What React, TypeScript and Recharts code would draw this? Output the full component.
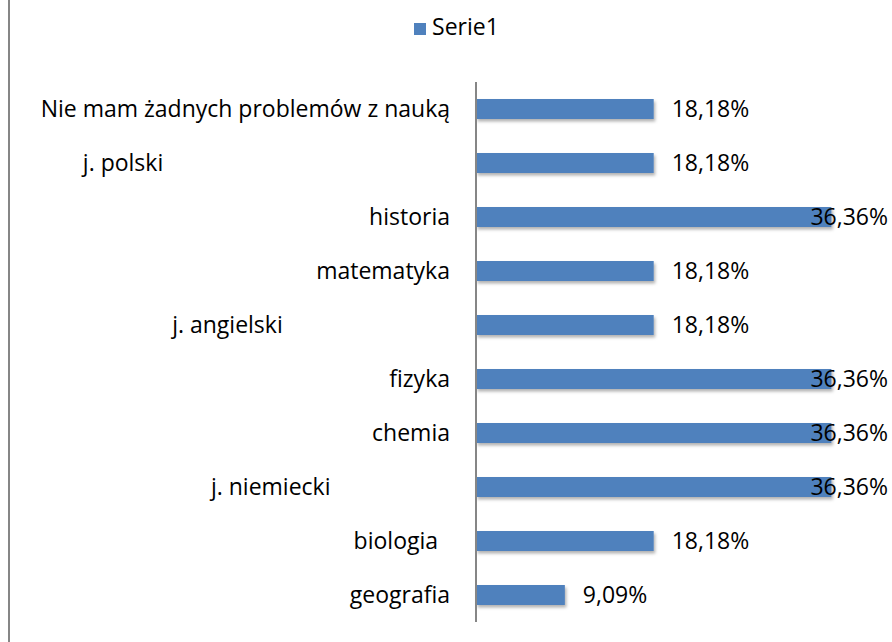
import React from "react";
import { BarChart, Bar, XAxis, YAxis, Legend, LabelList } from "recharts";

// trailing spaces reproduce the odd label alignment of the original sheet
const categories = [
  "Nie mam żadnych problemów z nauką",
  "j. polski" + " ".repeat(48),
  "historia",
  "matematyka",
  "j. angielski" + " ".repeat(28),
  "fizyka",
  "chemia",
  "j. niemiecki" + " ".repeat(20),
  "biologia  ",
  "geografia",
];
const serie1 = [18.18, 18.18, 36.36, 18.18, 18.18, 36.36, 36.36, 36.36, 18.18, 9.09];

const data = categories.map((name, i) => ({ name, serie1: serie1[i] }));

const W = 892;
const H = 642;
const FONT = "'Open Sans', Lato, sans-serif";
const FS = 23;
const BLUE = "#4F81BD";

const fmt = (v: number) => v.toFixed(2).replace(".", ",") + "%";

function CategoryTick(props: any) {
  const { x, y, payload } = props;
  return (
    <text
      x={x}
      y={y}
      dy="0.35em"
      textAnchor="end"
      fill="#000"
      fontSize={FS}
      fontFamily={FONT}
      xmlSpace="preserve"
      style={{ whiteSpace: "pre" }}
    >
      {payload.value}
    </text>
  );
}

function ShadowBar(props: any) {
  const { x, y, width, height } = props;
  return <rect x={x} y={y} width={width} height={height} fill={BLUE} filter="url(#barShadow)" />;
}

function ValueLabel(props: any) {
  const { x, y, width, height, value } = props;
  const lx = x + width + 18;
  const overflow = lx + 78 > W - 4;
  return (
    <text
      x={overflow ? W - 4 : lx}
      y={y + height / 2}
      dy="0.35em"
      textAnchor={overflow ? "end" : "start"}
      fill="#000"
      fontSize={FS}
      fontFamily={FONT}
    >
      {fmt(value)}
    </text>
  );
}

export default function App() {
  return (
    <div style={{ position: "absolute", left: 0, top: 0, width: W, height: H, background: "#fff" }}>
      <div style={{ position: "absolute", left: 8, top: 0, width: 2, height: H, background: "#868686" }} />
      <BarChart
        width={W}
        height={H}
        data={data}
        layout="vertical"
        margin={{ top: 58, right: 25, bottom: 20, left: 0 }}
        barSize={20}
      >
        <defs>
          <filter id="barShadow" x="-5%" y="-30%" width="115%" height="190%">
            <feDropShadow dx={1.5} dy={2.5} stdDeviation={1.5} floodColor="#000" floodOpacity={0.3} />
          </filter>
        </defs>
        <Legend
          verticalAlign="top"
          align="center"
          iconType="square"
          iconSize={12}
          wrapperStyle={{ top: 14, left: 28, height: 24, lineHeight: "24px", fontFamily: FONT, fontSize: FS }}
          formatter={(v: string) => <span style={{ color: "#000", marginLeft: 2 }}>{v}</span>}
        />
        <XAxis type="number" domain={[0, 40]} hide />
        <YAxis
          type="category"
          dataKey="name"
          width={476}
          tickSize={0}
          tickMargin={26}
          tickLine={false}
          axisLine={{ stroke: "#868686", strokeWidth: 2 }}
          tick={<CategoryTick />}
          interval={0}
        />
        <Bar dataKey="serie1" name="Serie1" fill={BLUE} shape={<ShadowBar />} isAnimationActive={false}>
          <LabelList dataKey="serie1" content={<ValueLabel />} />
        </Bar>
      </BarChart>
    </div>
  );
}
